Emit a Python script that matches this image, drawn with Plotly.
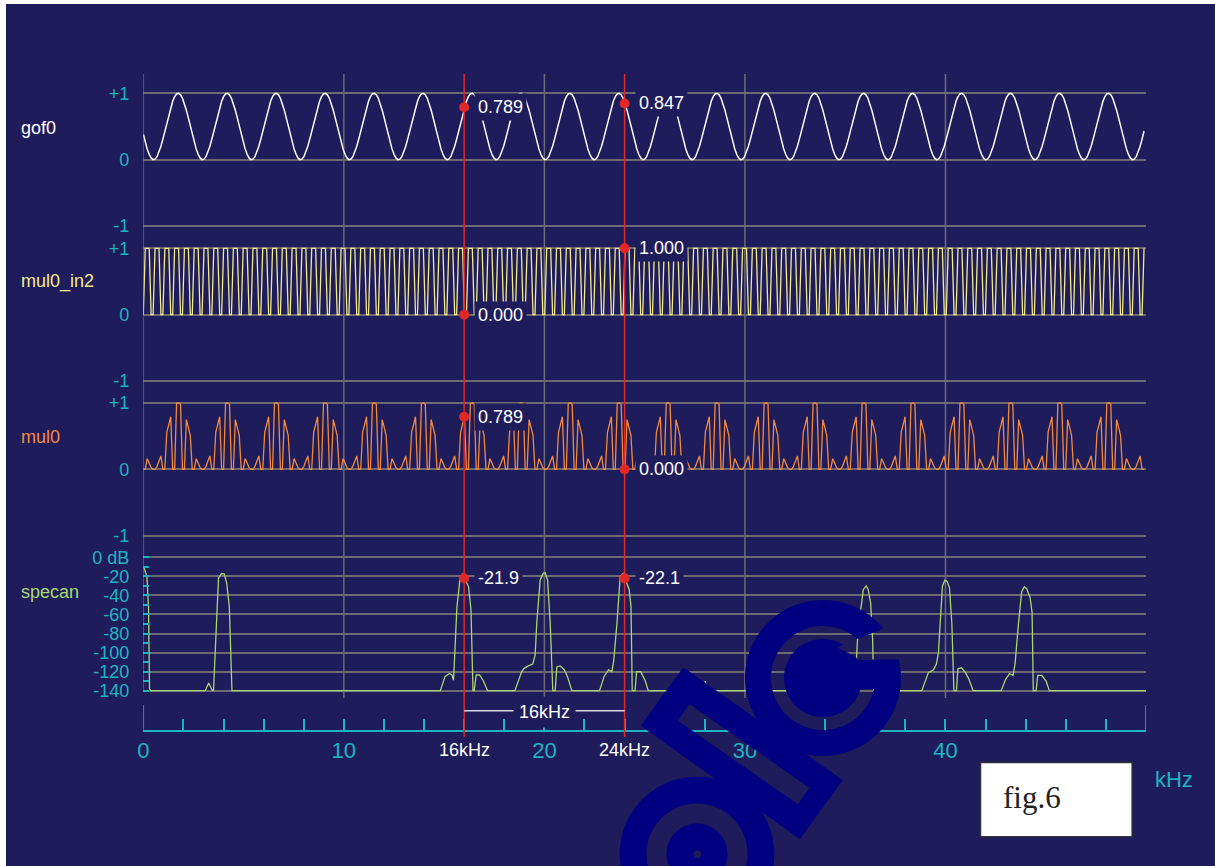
import numpy as np
import plotly.graph_objects as go

W, H = 1215, 866
FONT = "Liberation Sans, Arial, sans-serif"

BG = "#1f1c5b"
GRID = "#6c6a74"
CYAN = "#1db4c1"
RED = "#e02828"
MARK = "#000080"
WHITE = "#ffffff"
YELLOW = "#f3eb8c"
ORANGE = "#f28a3e"
GREEN = "#a9d673"

# ---- time-domain record: 512 samples across the 0-50 display span ----
N_SAMPLES = 512
SPAN = 50.0

# one 25-sample period of the 4 kHz generator output
gof0_cycle = [0.382, 0.265, 0.162, 0.081, 0.026, 0.001, 0.008, 0.045, 0.111, 0.201,
              0.310, 0.431, 0.556, 0.678, 0.789, 0.881, 0.950, 0.990, 0.999, 0.977,
              0.926, 0.847, 0.746, 0.630, 0.506]
# one 5-sample period of the 20 kHz switching pulse
in2_cycle = [0, 1, 1, 1, 0]
# one 25-sample period of the multiplier output
mul0_cycle = [0.0, 0.0, 0.162, 0.081, 0.026, 0.0, 0.0, 0.045, 0.111, 0.201,
              0.0, 0.0, 0.556, 0.678, 0.789, 0.0, 0.0, 0.990, 0.999, 0.977,
              0.0, 0.0, 0.746, 0.630, 0.506]

# ---- spectrum analyser trace ----
spec_khz = [0.00, 0.18, 0.26, 0.31, 0.38,
            3.09, 3.26, 3.45, 3.50, 3.67, 3.75, 3.90, 4.04, 4.16, 4.29, 4.42,
            14.81, 15.05, 15.27, 15.39, 15.47, 15.64, 15.80, 15.92, 16.02, 16.22, 16.34, 16.44,
            16.50, 16.60, 16.77, 16.94, 17.17,
            18.53, 18.87, 18.99, 19.20, 19.42, 19.54, 19.62, 19.79, 19.93, 20.04, 20.16, 20.29, 20.42,
            20.54, 20.62, 20.79, 20.99, 21.15, 21.37,
            22.75, 22.98, 23.20, 23.37, 23.46, 23.62, 23.78, 23.92, 24.02, 24.23, 24.32, 24.38,
            24.52, 24.60, 24.80, 25.02, 25.18,
            27.92, 28.02, 28.12,
            34.80, 35.05, 35.25, 35.40, 35.50, 35.66, 35.82, 35.90, 36.05, 36.15, 36.27, 36.37, 36.42,
            36.52, 36.60, 36.78, 36.95, 37.17,
            38.82, 39.15, 39.40, 39.55, 39.65, 39.72, 39.85, 39.97, 40.08, 40.20, 40.32, 40.42,
            40.55, 40.62, 40.80, 41.00, 41.17, 41.38,
            42.78, 43.00, 43.20, 43.37, 43.47, 43.63, 43.80, 43.93, 44.05, 44.22, 44.32, 44.38,
            44.52, 44.60, 44.80, 45.02, 45.18,
            50.00]
spec_db = [-9, -20, -52, -138, -140,
           -140, -132, -140, -140, -69, -22, -17, -17.5, -27, -52, -140,
           -140, -125, -122, -123.5, -129, -52, -21, -17.5, -21.9, -31, -55, -140,
           -140, -123.5, -123.5, -129, -140,
           -140, -120, -116.5, -114, -112, -102.5, -69, -24, -17, -16, -24, -69, -140,
           -140, -115, -114, -118, -125, -140,
           -140, -125, -118, -120, -108, -69, -20.5, -17, -22.1, -34, -52, -140,
           -140, -120, -120, -129, -140,
           -140, -130, -140,
           -140, -127, -123, -125, -129, -70, -48, -34, -30, -34, -48, -87, -140,
           -140, -126, -126, -131, -140,
           -140, -121, -118, -112, -100, -70, -30, -24, -25, -32, -70, -140,
           -140, -117, -116, -121, -128, -140,
           -140, -128, -122, -124, -112, -72, -36, -31, -33, -42, -58, -140,
           -140, -124, -124, -130, -140,
           -140]

# ---- cursor readouts ----
cursor_khz = [16, 24]
cursor_text = ["16kHz", "24kHz"]
span_text = "16kHz"
gof0_read = [0.789, 0.847]
in2_read = [0.000, 1.000]
mul0_read = [0.789, 0.000]
spec_read = [-21.9, -22.1]

# ---- tick definitions ----
x_minor = list(range(0, 50, 2))
x_major = [0, 10, 20, 30, 40]
unit_ticks = [-1, 0, 1]
unit_text = ["-1", "0", "+1"]
db_ticks = [0, -20, -40, -60, -80, -100, -120, -140]
db_text = ["0 dB", "-20", "-40", "-60", "-80", "-100", "-120", "-140"]
db_minor = [-10, -30, -50, -70, -90, -110, -130]

t = np.arange(N_SAMPLES) * SPAN / N_SAMPLES
gof0 = np.resize(np.array(gof0_cycle), N_SAMPLES)
in2 = np.resize(np.array(in2_cycle, dtype=float), N_SAMPLES)
mul0 = np.resize(np.array(mul0_cycle), N_SAMPLES)


def fx(p):
    return p / W


def fy(p):
    return 1 - p / H


def unit_axis(top, bottom):
    per = (bottom - top) / 2.0
    pad = 2.0 / per
    return dict(domain=[fy(bottom + 2), fy(top - 2)], range=[-1 - pad, 1 + pad],
                tickmode="array", tickvals=unit_ticks, ticktext=unit_text,
                ticks="", showgrid=True, gridcolor=GRID, gridwidth=1.5,
                zeroline=False, showline=False, anchor="x", automargin=False,
                ticklabelstandoff=13,
                tickfont=dict(family=FONT, size=18, color=CYAN))


db_top, db_bottom = 557.3, 690.7
db_per = (db_bottom - db_top) / 140.0
db_pad = 2.0 / db_per
spec_axis = dict(domain=[fy(db_bottom + 2), fy(db_top - 2)], range=[-140 - db_pad, db_pad],
                 tickmode="array", tickvals=db_ticks, ticktext=db_text,
                 ticks="inside", ticklen=6, tickwidth=1.5, tickcolor=CYAN,
                 minor=dict(tickmode="array", tickvals=db_minor, ticks="inside",
                            ticklen=6, tickwidth=1.5, tickcolor=CYAN, showgrid=False),
                 showgrid=True, gridcolor=GRID, gridwidth=1.5,
                 zeroline=False, showline=False, anchor="x", automargin=False,
                 ticklabelstandoff=13,
                 tickfont=dict(family=FONT, size=18, color=CYAN))

fig = go.Figure()

traces = [
    (gof0, "y", WHITE, 1.5),
    (in2, "y2", YELLOW, 1.3),
    (mul0, "y3", ORANGE, 1.3),
]
for ys, ax, col, wd in traces:
    fig.add_trace(go.Scatter(x=t, y=ys, xaxis="x", yaxis=ax, mode="lines",
                             line=dict(color=col, width=wd), hoverinfo="skip"))
fig.add_trace(go.Scatter(x=spec_khz, y=spec_db, xaxis="x", yaxis="y4", mode="lines",
                         line=dict(color=GREEN, width=1.3), hoverinfo="skip"))

readouts = [(gof0_read, "y", "{:.3f}"), (in2_read, "y2", "{:.3f}"),
            (mul0_read, "y3", "{:.3f}"), (spec_read, "y4", "{:.1f}")]

annotations = []
for vals, ax, fmt in readouts:
    fig.add_trace(go.Scatter(x=cursor_khz, y=vals, xaxis="x", yaxis=ax, mode="markers",
                             marker=dict(color=RED, size=10), cliponaxis=False,
                             hoverinfo="skip"))
    for cx, v in zip(cursor_khz, vals):
        annotations.append(dict(x=cx, y=v, xref="x", yref=ax, text=fmt.format(v),
                                showarrow=False, xanchor="left", yanchor="middle",
                                xshift=10, bgcolor=BG, borderpad=3,
                                font=dict(family=FONT, size=18, color=WHITE)))

# channel names
names = [("gof0", 128.3, WHITE), ("mul0_in2", 281.7, YELLOW),
         ("mul0", 437.3, ORANGE), ("specan", 592.3, GREEN)]
for txt, yp, col in names:
    annotations.append(dict(x=fx(19), y=fy(yp), xref="paper", yref="paper", text=txt,
                            showarrow=False, xanchor="left", yanchor="middle",
                            font=dict(family=FONT, size=18, color=col)))

# cursor frequency labels and span marker
for cx, txt in zip(cursor_khz, cursor_text):
    annotations.append(dict(x=cx, y=fy(750.3), xref="x", yref="paper", text=txt,
                            showarrow=False, xanchor="center", yanchor="middle",
                            font=dict(family=FONT, size=18, color=WHITE)))
annotations.append(dict(x=(cursor_khz[0] + cursor_khz[1]) / 2, y=fy(711.5), xref="x",
                        yref="paper", text=span_text, showarrow=False,
                        xanchor="center", yanchor="middle", bgcolor=BG, borderpad=5,
                        font=dict(family=FONT, size=18, color=WHITE)))
annotations.append(dict(x=fx(1173.5), y=fy(779), xref="paper", yref="paper", text="kHz",
                        showarrow=False, xanchor="center", yanchor="middle",
                        font=dict(family=FONT, size=22, color=CYAN)))
annotations.append(dict(x=fx(1001), y=fy(797), xref="paper", yref="paper", text="fig.6",
                        showarrow=False, xanchor="left", yanchor="middle",
                        font=dict(family="Liberation Serif, Times New Roman, serif",
                                  size=31, color="#222222")))

shapes = []
# background panel
shapes.append(dict(type="rect", xref="paper", yref="paper", x0=fx(6), x1=1, y0=0, y1=fy(4),
                   fillcolor=BG, line=dict(width=0), layer="below"))
# vertical grid
shapes.append(dict(type="line", xref="x", yref="paper", x0=0, x1=0, y0=fy(74), y1=fy(690.7),
                   line=dict(color=GRID, width=1.5), layer="below"))
for g in x_major[1:]:
    shapes.append(dict(type="line", xref="x", yref="paper", x0=g, x1=g, y0=fy(74), y1=fy(698),
                       line=dict(color=GRID, width=1.5), layer="below"))
# tall end ticks of the frequency scale
for g in (0, SPAN):
    shapes.append(dict(type="line", xref="x", yref="paper", x0=g, x1=g, y0=fy(705),
                       y1=fy(730.7), line=dict(color=CYAN, width=1.5), layer="above"))
# cursors
for cx in cursor_khz:
    shapes.append(dict(type="line", xref="x", yref="paper", x0=cx, x1=cx, y0=fy(74),
                       y1=fy(737), line=dict(color=RED, width=1.5), layer="above"))
# span bracket
shapes.append(dict(type="line", xref="x", yref="paper", x0=cursor_khz[0], x1=cursor_khz[1],
                   y0=fy(710.7), y1=fy(710.7), line=dict(color="#d8d8e6", width=1.5),
                   layer="above"))
# caption box
shapes.append(dict(type="rect", xref="paper", yref="paper", x0=fx(980.7), x1=fx(1132),
                   y0=fy(836.7), y1=fy(762.7), fillcolor="white",
                   line=dict(color="#333333", width=1.2), layer="above"))


# ---- logo mark geometry (pixel space, converted to paper fractions) ----
def arc(cx, cy, r, a0, a1, n=90):
    a = np.radians(np.linspace(a0, a1, n))
    return list(zip(cx + r * np.cos(a), cy - r * np.sin(a)))


def subpath(pts):
    return "M " + " L ".join(f"{fx(a):.5f},{fy(b):.5f}" for a, b in pts) + " Z"


def mark(subpaths):
    return dict(type="path", xref="paper", yref="paper", path=" ".join(subpaths),
                fillcolor=MARK, fillrule="evenodd", line=dict(width=0), layer="above")


# ring "O" with a hollow inner dot
ocx, ocy = 697, 854
shapes.append(mark([subpath(arc(ocx, ocy, r, 0, 360, 120)) for r in (77.3, 50.5, 30.5)]
                   + [subpath(arc(697.3, 854.3, 4, 0, 360, 24))]))
# bar "I"
shapes.append(mark([subpath([(683.3, 667.3), (842.7, 780), (800, 839.3), (640.7, 725.7)]),
                    subpath([(689.3, 704), (809.3, 787.7), (798, 804.3), (678, 720.7)])]))
# hooked "G": open ring, notched core and crossbar
gcx, gcy = 823, 678
ring = arc(gcx, gcy, 78, 39.5, 373.7) + arc(gcx, gcy, 52, 380.8, 48.7)
core = arc(gcx, gcy, 39, 58.8, 392.4) + [(836.7, 647.3)]
bar = [(850, 660), (882, 660), (882, 689), (850, 689)]
shapes.append(mark([subpath(ring)]))
shapes.append(mark([subpath(core)]))
shapes.append(mark([subpath(bar)]))

fig.update_layout(
    width=W, height=H, margin=dict(l=0, r=0, t=0, b=0),
    paper_bgcolor="white", plot_bgcolor="rgba(0,0,0,0)",
    showlegend=False,
    xaxis=dict(domain=[fx(143.3), fx(1146)], range=[0, SPAN], anchor="free",
               position=fy(730.7), showline=True, linecolor=CYAN, linewidth=1.5,
               tickmode="array", tickvals=x_minor,
               ticktext=[str(v) if v in x_major else "" for v in x_minor],
               ticks="inside", ticklen=11, tickwidth=1.5, tickcolor=CYAN,
               showgrid=False, zeroline=False, automargin=False,
               tickfont=dict(family=FONT, size=22, color=CYAN)),
    yaxis=unit_axis(93.3, 226.0),
    yaxis2=unit_axis(248.3, 381.0),
    yaxis3=unit_axis(402.7, 536.0),
    yaxis4=spec_axis,
    shapes=shapes,
    annotations=annotations,
)

fig.write_html("out.html")
